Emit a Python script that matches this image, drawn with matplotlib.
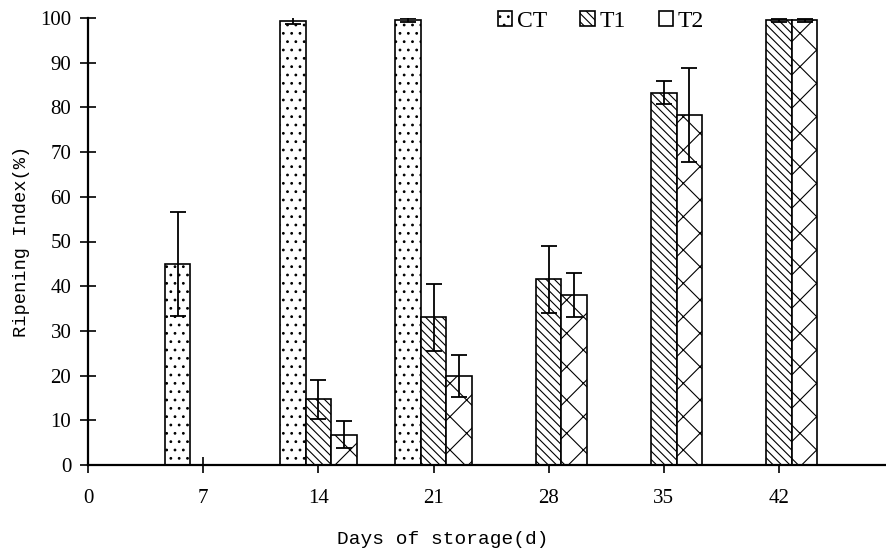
import numpy as np
import matplotlib
matplotlib.use("Agg")
import matplotlib.pyplot as plt
from matplotlib.patches import Patch

days = [7, 14, 21, 28, 35, 42]
series = ["CT", "T1", "T2"]
ct = [45.0, 99.4, 99.5, np.nan, np.nan, np.nan]
ct_err = [11.7, 0.8, 0.4, np.nan, np.nan, np.nan]
t1 = [np.nan, 14.7, 33.0, 41.5, 83.3, 99.5]
t1_err = [np.nan, 4.4, 7.4, 7.5, 2.5, 0.3]
t2 = [np.nan, 6.8, 20.0, 38.0, 78.3, 99.5]
t2_err = [np.nan, 3.0, 4.7, 5.0, 10.6, 0.3]

HATCHES = ["..", "\\\\\\\\", "x"]
SERIF = "Liberation Serif"
MONO = "Liberation Mono"

plt.rcParams["hatch.linewidth"] = 0.8

fig = plt.figure(figsize=(8.86, 5.54), dpi=100)
ax = fig.add_axes([88 / 886, 89 / 554, 798 / 886, 447 / 554])

w = 1.55
x = np.array(days, dtype=float)
for k, (vals, errs) in enumerate([(ct, ct_err), (t1, t1_err), (t2, t2_err)]):
    pos = x + (k - 1) * w
    ax.bar(pos, vals, width=w, facecolor="white", edgecolor="black",
           linewidth=1.2, hatch=HATCHES[k], zorder=2)
    ax.errorbar(pos, vals, yerr=errs, fmt="none", ecolor="black",
                elinewidth=1.3, capsize=6, capthick=1.3, zorder=3)

ax.set_xlim(0, 48.5)
ax.set_ylim(0, 100)
ax.set_xticks([0] + days)
ax.set_yticks(range(0, 101, 10))
for s in ["top", "right"]:
    ax.spines[s].set_visible(False)
for s in ["left", "bottom"]:
    ax.spines[s].set_linewidth(1.6)
ax.tick_params(axis="x", direction="inout", length=12, width=1.2, pad=11,
               labelsize=15)
ax.tick_params(axis="y", direction="inout", length=12, width=1.2, pad=6,
               labelsize=15)
for lab in ax.get_xticklabels() + ax.get_yticklabels():
    lab.set_fontfamily(SERIF)

ax.set_ylabel("Ripening Index(%)", fontfamily=MONO, fontsize=13.5)
ax.yaxis.set_label_coords(-(88 - 30) / 798, 0.5)
fig.text(443 / 886, 1 - 540 / 554, "Days of storage(d)", ha="center",
         va="center", fontfamily=MONO, fontsize=14)

# legend across the top, no frame
handles = [Patch(facecolor="white", edgecolor="black", hatch=h, linewidth=1.2)
           for h in HATCHES]
fig.legend(handles, series, loc="upper left", bbox_to_anchor=(477 / 886, 1.018),
           ncol=3, frameon=False, handlelength=0.6, handleheight=0.6,
           handletextpad=0.2, columnspacing=1.4,
           prop={"family": SERIF, "size": 17})

fig.savefig("out.png", dpi=100)
